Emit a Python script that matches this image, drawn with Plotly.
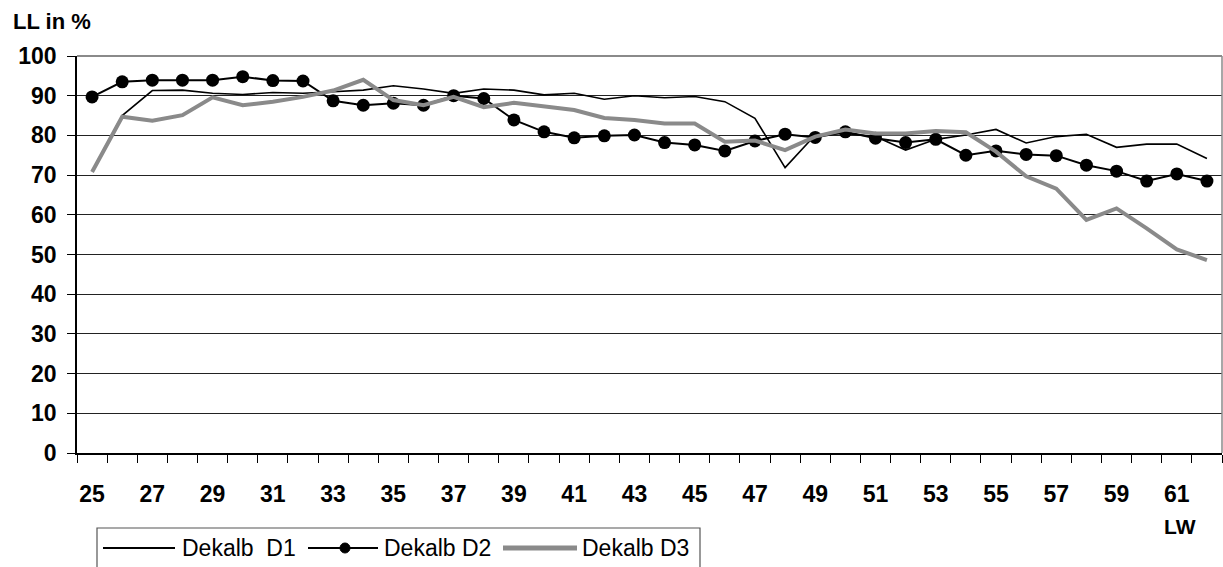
import plotly.graph_objects as go

# Laying weeks (LW) 25..62
weeks = list(range(25, 63))

# Laying performance (LL in %) per flock
d1 = [71.0, 85.0, 91.3, 91.4, 90.6, 90.3, 90.8, 90.6, 91.0, 91.4,
      92.5, 91.7, 90.6, 91.7, 91.4, 90.2, 90.6, 89.1, 90.0, 89.5,
      89.8, 88.5, 84.3, 71.9, 80.1, 80.5, 79.7, 76.3, 79.0, 80.1,
      81.5, 78.1, 79.7, 80.3, 77.0, 77.8, 77.8, 74.2]
d2 = [89.7, 93.5, 93.9, 93.9, 93.9, 94.8, 93.8, 93.7, 88.7, 87.6,
      88.1, 87.6, 90.0, 89.3, 83.9, 80.9, 79.4, 79.9, 80.1, 78.2,
      77.6, 76.1, 78.6, 80.3, 79.5, 80.9, 79.3, 78.2, 79.0, 75.0,
      76.1, 75.2, 74.9, 72.5, 71.0, 68.5, 70.3, 68.5]
d3 = [70.8, 84.7, 83.7, 85.1, 89.6, 87.6, 88.5, 89.7, 91.3, 94.0,
      88.9, 87.6, 89.7, 87.1, 88.2, 87.2, 86.4, 84.4, 83.9, 83.0,
      83.0, 78.4, 78.7, 76.3, 79.7, 81.5, 80.5, 80.5, 81.1, 80.8,
      75.9, 69.7, 66.6, 58.7, 61.6, 56.6, 51.3, 48.6]

series_names = ["Dekalb  D1", "Dekalb D2", "Dekalb D3"]
label_weeks = list(range(25, 62, 2))
y_ticks = list(range(0, 101, 10))

FONT = "Liberation Sans, Arial, sans-serif"
GRAY = "#8a8a8a"

# plot-area geometry in pixels (used to place the hand-built legend)
W, H = 1223, 567
L, R, T, B = 77, 1, 56, 114
PW, PH = W - L - R, H - T - B


def px(x):
    return (x - L) / PW


def py(y):
    return (H - B - y) / PH


fig = go.Figure()
fig.add_trace(go.Scatter(x=weeks, y=d1, mode="lines", name=series_names[0],
                         line=dict(color="black", width=1.6), showlegend=False))
fig.add_trace(go.Scatter(x=weeks, y=d2, mode="lines+markers", name=series_names[1],
                         line=dict(color="black", width=2),
                         marker=dict(color="black", size=13), showlegend=False))
fig.add_trace(go.Scatter(x=weeks, y=d3, mode="lines", name=series_names[2],
                         line=dict(color=GRAY, width=4), showlegend=False))

shapes = [
    # top and right frame of the plot area
    dict(type="line", xref="paper", yref="paper", x0=0, x1=1, y0=1, y1=1,
         line=dict(color=GRAY, width=2), layer="above"),
    dict(type="line", xref="paper", yref="paper", x0=1, x1=1, y0=0, y1=1,
         line=dict(color=GRAY, width=1.5), layer="above"),
    # legend frame
    dict(type="rect", xref="paper", yref="paper", x0=px(97), x1=px(700),
         y0=py(585), y1=py(528), line=dict(color="#555", width=1.2),
         fillcolor="white"),
]

# legend samples
ly = py(548)
shapes += [
    dict(type="line", xref="paper", yref="paper", x0=px(103), x1=px(175),
         y0=ly, y1=ly, line=dict(color="black", width=2)),
    dict(type="line", xref="paper", yref="paper", x0=px(308), x1=px(378),
         y0=ly, y1=ly, line=dict(color="black", width=2)),
    dict(type="circle", xref="paper", yref="paper", x0=px(340), x1=px(350),
         y0=py(553), y1=py(543), fillcolor="black", line=dict(color="black", width=1)),
    dict(type="line", xref="paper", yref="paper", x0=px(503), x1=px(577),
         y0=ly, y1=ly, line=dict(color=GRAY, width=5)),
]

annotations = [
    dict(text="<b>LL in %</b>", xref="paper", yref="paper", x=px(11), y=py(22),
         xanchor="left", yanchor="middle", showarrow=False,
         font=dict(family=FONT, size=22, color="black")),
    dict(text="<b>LW</b>", xref="paper", yref="paper", x=px(1180), y=py(526),
         xanchor="center", yanchor="middle", showarrow=False,
         font=dict(family=FONT, size=21, color="black")),
]
for name, x0 in zip(series_names, [180, 382, 580]):
    annotations.append(dict(text=name.replace("  ", "&nbsp; "), xref="paper", yref="paper",
                            x=px(x0), y=ly, xanchor="left", yanchor="middle",
                            showarrow=False,
                            font=dict(family=FONT, size=23, color="black")))

fig.update_layout(
    width=W, height=H,
    margin=dict(l=L, r=R, t=T, b=B, pad=0),
    paper_bgcolor="white", plot_bgcolor="white",
    font=dict(family=FONT, color="black"),
    shapes=shapes, annotations=annotations,
    xaxis=dict(
        range=[24.5, 62.5], tickmode="array", tickvals=label_weeks,
        ticktext=[f"<b>{w}</b>" for w in label_weeks],
        ticks="", showgrid=False, zeroline=False,
        showline=True, linecolor="black", linewidth=1.5,
        tickfont=dict(family=FONT, size=23, color="black"),
        ticklabelstandoff=20,
        minor=dict(ticks="outside", tickmode="array",
                   tickvals=[w - 0.5 for w in weeks] + [weeks[-1] + 0.5],
                   ticklen=8, tickcolor="black", tickwidth=1, showgrid=False),
    ),
    yaxis=dict(
        range=[0, 100], tickmode="array", tickvals=y_ticks,
        ticktext=[f"<b>{v}</b>" for v in y_ticks],
        ticks="outside", ticklen=8, tickcolor="black", tickwidth=1,
        showgrid=True, gridcolor="#222", gridwidth=1, zeroline=False,
        showline=True, linecolor="black", linewidth=1.5,
        tickfont=dict(family=FONT, size=23, color="black"),
        ticklabelstandoff=6,
    ),
)

fig.write_html("out.html")
